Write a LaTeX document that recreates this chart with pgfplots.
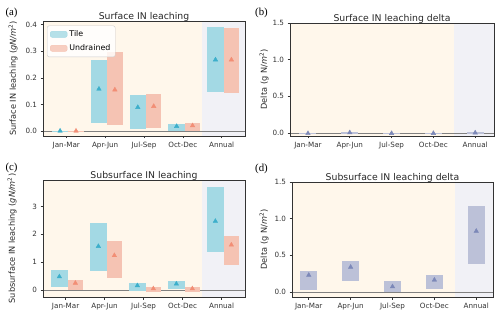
\documentclass[border=0pt]{standalone}
\usepackage{pgfplots}
\usepackage{pgfplotstable}
\pgfplotsset{compat=1.18}
\usepackage{fontspec}
\setmainfont{DejaVu Sans}
\newfontfamily\seriffont{Liberation Serif}
\definecolor{bgorange}{HTML}{FFF7EB}
\definecolor{bglav}{HTML}{F1F1F6}
\definecolor{tilefill}{HTML}{A3D9E4}
\definecolor{undfill}{HTML}{F5C3B3}
\definecolor{delfill}{HTML}{BCC1D8}
\definecolor{tilemark}{HTML}{3CAFCB}
\definecolor{undmark}{HTML}{F28E75}
\definecolor{delmark}{HTML}{7C88B8}

\pgfplotstableread{
x lo hi mid
0 -0.0005 0.0005 0.0
1 0.030 0.268 0.158
2 0.0075 0.135 0.089
3 0.0 0.025 0.0175
4 0.145 0.391 0.268
}\tileA
\pgfplotstableread{
x lo hi mid
0 -0.0005 0.0005 0.0
1 0.021 0.297 0.155
2 0.0125 0.139 0.093
3 0.0 0.031 0.020
4 0.142 0.387 0.268
}\undA
\pgfplotstableread{
x lo hi mid
0 0.12 0.71 0.48
1 0.68 2.39 1.57
2 -0.04 0.25 0.16
3 0.02 0.32 0.22
4 1.36 3.70 2.47
}\tileC
\pgfplotstableread{
x lo hi mid
0 0.0 0.36 0.25
1 0.44 1.75 1.24
2 -0.06 0.10 0.05
3 -0.06 0.10 0.05
4 0.89 1.94 1.62
}\undC
\pgfplotstableread{
x lo hi mid
0 -0.012 0.003 -0.005
1 -0.004 0.020 0.006
2 -0.010 0.003 -0.004
3 -0.008 0.003 -0.003
4 -0.005 0.020 0.004
}\delB
\pgfplotstableread{
x lo hi mid
0 0.03 0.28 0.23
1 0.155 0.42 0.34
2 0.0 0.145 0.073
3 0.04 0.236 0.164
4 0.377 1.17 0.83
}\delD

\pgfplotsset{
  myax/.style={
    scale only axis, anchor=south west, axis on top,
    xtick={0,...,4}, xticklabels={Jan-Mar,Apr-Jun,Jul-Sep,Oct-Dec,Annual},
    tick align=outside, xtick pos=bottom, ytick pos=left,
    major tick length=2.5pt,
    axis line style={black!80, line width=0.6pt},
    tick style={black!80, line width=0.6pt},
    ticklabel style={font=\fontsize{7.2}{8}\selectfont, text=black!80},
    /pgf/number format/assume math mode=true,
    title style={font=\fontsize{9.3}{10}\selectfont, text=black!85, at={(0.5,1)}, anchor=south, yshift=-9.5pt},
    every axis y label/.style={rotate=90, anchor=center, font=\fontsize{8.2}{9}\selectfont, text=black!85},
  },
  fix1/.style={yticklabel style={/pgf/number format/.cd, fixed, fixed zerofill, precision=1}},
  bars/.style 2 args={forget plot, draw=none, mark=none,
    error bars/.cd, y dir=both, y explicit, error mark=none,
    error bar style={line width=#2, draw=#1, line cap=butt, solid}},
  tri/.style={forget plot, only marks, mark=triangle*, mark size=2.6pt, draw=#1, fill=#1, mark options={draw=#1, fill=#1, solid}},
}

\begin{document}
\begin{tikzpicture}[x=1pt,y=1pt]
\useasboundingbox (0,0) rectangle (500,316);

% (a)
\begin{axis}[myax, fix1, at={(43pt,180pt)}, width=202pt, height=115pt,
  xmin=-0.6, xmax=4.6, ymin=-0.019, ymax=0.414,
  ytick={0,0.1,0.2,0.3,0.4},
  title={Surface IN leaching},
  ylabel={Surface IN leaching (\textit{gN/m}\textsuperscript{2})},
  y label style={at={(axis description cs:-0.148,0.5)}},
  legend style={at={(axis description cs:0.02,0.96)}, anchor=north west,
    draw=black!20, rounded corners=2pt, fill=white, fill opacity=0.8, text opacity=1,
    font=\fontsize{7.9}{9}\selectfont, row sep=2.5pt, inner sep=2.8pt},
  legend cell align=left]
\fill[bgorange] (axis cs:-0.6,-0.019) rectangle (axis cs:3.5,0.414);
\fill[bglav] (axis cs:3.5,-0.019) rectangle (axis cs:4.6,0.414);
\draw[black!50, line width=0.6pt] (axis cs:-0.6,0) -- (axis cs:4.6,0);
\addplot[bars={tilefill}{16.3pt}] table[x expr=\thisrow{x}-0.16, y=mid, y error plus expr=\thisrow{hi}-\thisrow{mid}, y error minus expr=\thisrow{mid}-\thisrow{lo}] {\tileA};
\addplot[bars={undfill}{15.5pt}] table[x expr=\thisrow{x}+0.25, y=mid, y error plus expr=\thisrow{hi}-\thisrow{mid}, y error minus expr=\thisrow{mid}-\thisrow{lo}] {\undA};
\addplot[tri=tilemark] table[x expr=\thisrow{x}-0.16, y=mid] {\tileA};
\addplot[tri=undmark] table[x expr=\thisrow{x}+0.25, y=mid] {\undA};
\addlegendimage{legend image code/.code={\fill[tilefill] (0pt,-3pt) rectangle (17pt,3pt);}}
\addlegendentry{Tile}
\addlegendimage{legend image code/.code={\fill[undfill] (0pt,-3pt) rectangle (17pt,3pt);}}
\addlegendentry{Undrained}
\end{axis}

% (b)
\begin{axis}[myax, fix1, at={(290pt,180pt)}, width=204pt, height=113pt,
  xmin=-0.43, xmax=4.45, ymin=-0.04, ymax=1.5,
  ytick={0,0.5,1.0,1.5},
  title={Surface IN leaching delta},
  ylabel={Delta (g N/\textit{m}\textsuperscript{2})},
  y label style={at={(axis description cs:-0.127,0.5)}}]
\fill[bgorange] (axis cs:-0.43,-0.04) rectangle (axis cs:3.5,1.5);
\fill[bglav] (axis cs:3.5,-0.04) rectangle (axis cs:4.45,1.5);
\draw[black!50, line width=0.6pt] (axis cs:-0.43,0) -- (axis cs:4.45,0);
\addplot[bars={delfill}{17pt}] table[x=x, y=mid, y error plus expr=\thisrow{hi}-\thisrow{mid}, y error minus expr=\thisrow{mid}-\thisrow{lo}] {\delB};
\addplot[tri=delmark] table[x=x, y=mid] {\delB};
\end{axis}

% (c)
\begin{axis}[myax, at={(43pt,19pt)}, width=202pt, height=117pt,
  xmin=-0.58, xmax=4.6, ymin=-0.25, ymax=3.95,
  ytick={0,1,2,3},
  title={Subsurface IN leaching},
  ylabel={Subsurface IN leaching (\textit{gN/m}\textsuperscript{2})},
  y label style={at={(axis description cs:-0.153,0.5)}}]
\fill[bgorange] (axis cs:-0.58,-0.25) rectangle (axis cs:3.5,3.95);
\fill[bglav] (axis cs:3.5,-0.25) rectangle (axis cs:4.6,3.95);
\draw[black!50, line width=0.6pt] (axis cs:-0.58,0) -- (axis cs:4.6,0);
\addplot[bars={tilefill}{16.3pt}] table[x expr=\thisrow{x}-0.16, y=mid, y error plus expr=\thisrow{hi}-\thisrow{mid}, y error minus expr=\thisrow{mid}-\thisrow{lo}] {\tileC};
\addplot[bars={undfill}{15.5pt}] table[x expr=\thisrow{x}+0.25, y=mid, y error plus expr=\thisrow{hi}-\thisrow{mid}, y error minus expr=\thisrow{mid}-\thisrow{lo}] {\undC};
\addplot[tri=tilemark] table[x expr=\thisrow{x}-0.16, y=mid] {\tileC};
\addplot[tri=undmark] table[x expr=\thisrow{x}+0.25, y=mid] {\undC};
\end{axis}

% (d)
\begin{axis}[myax, fix1, at={(292pt,19pt)}, width=201pt, height=115pt,
  xmin=-0.4, xmax=4.4, ymin=-0.068, ymax=1.5,
  ytick={0,0.5,1.0,1.5},
  title={Subsurface IN leaching delta},
  ylabel={Delta (g N/\textit{m}\textsuperscript{2})},
  y label style={at={(axis description cs:-0.139,0.5)}}]
\fill[bgorange] (axis cs:-0.4,-0.068) rectangle (axis cs:3.5,1.5);
\fill[bglav] (axis cs:3.5,-0.068) rectangle (axis cs:4.4,1.5);
\draw[black!50, line width=0.6pt] (axis cs:-0.4,0) -- (axis cs:4.4,0);
\addplot[bars={delfill}{17pt}] table[x=x, y=mid, y error plus expr=\thisrow{hi}-\thisrow{mid}, y error minus expr=\thisrow{mid}-\thisrow{lo}] {\delD};
\addplot[tri=delmark] table[x=x, y=mid] {\delD};
\end{axis}

\node[font=\fontsize{10.8}{12}\seriffont] at (11.5,303) {(a)};
\node[font=\fontsize{10.8}{12}\seriffont] at (261.5,303) {(b)};
\node[font=\fontsize{10.8}{12}\seriffont] at (11.5,148) {(c)};
\node[font=\fontsize{10.8}{12}\seriffont] at (261.5,147) {(d)};
\end{tikzpicture}
\end{document}
